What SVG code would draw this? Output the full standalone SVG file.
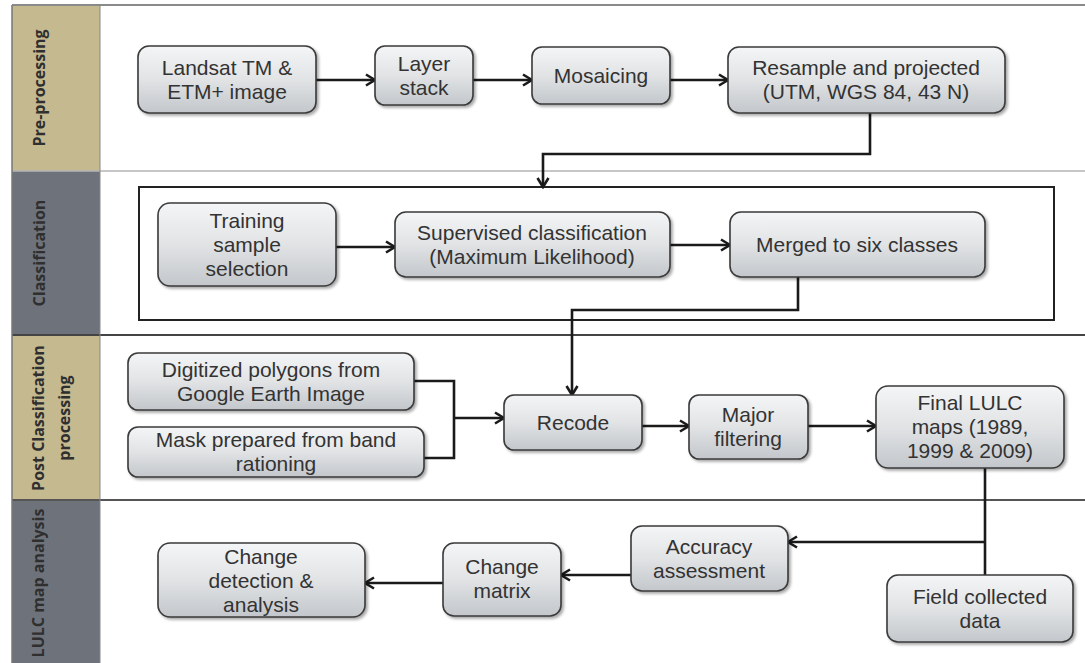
<svg xmlns="http://www.w3.org/2000/svg" width="1085" height="663" viewBox="0 0 1085 663">
<defs>
<linearGradient id="g" x1="0" y1="0" x2="0" y2="1">
<stop offset="0" stop-color="#f4f5f6"/>
<stop offset="0.5" stop-color="#e1e3e5"/>
<stop offset="1" stop-color="#c3c7cb"/>
</linearGradient>
<filter id="sh" x="-10%" y="-10%" width="125%" height="130%">
<feGaussianBlur in="SourceAlpha" stdDeviation="1.5"/>
<feOffset dx="1.5" dy="2" result="o"/>
<feComponentTransfer><feFuncA type="linear" slope="0.35"/></feComponentTransfer>
<feMerge><feMergeNode/><feMergeNode in="SourceGraphic"/></feMerge>
</filter>
<marker id="ah" markerUnits="userSpaceOnUse" markerWidth="14" markerHeight="14" viewBox="0 0 14 14" refX="12" refY="7" orient="auto">
<path d="M3,1.5 L12,7 L3,12.5" fill="none" stroke="#1a1a1a" stroke-width="2.6" stroke-linejoin="miter"/>
</marker>
</defs>
<style>
.box{fill:url(#g);stroke:#3a3a3a;stroke-width:1.6;filter:url(#sh)}
.t{font-family:"Liberation Sans",Arial,sans-serif;font-size:21px;fill:#333;text-anchor:middle}
.lab{font-family:"Open Sans","Liberation Sans",sans-serif;font-size:16px;font-weight:bold;fill:#2f2f2f;text-anchor:middle}
.c{fill:none;stroke:#1a1a1a;stroke-width:2.6}
.a{marker-end:url(#ah)}
</style>
<rect x="0" y="0" width="1085" height="663" fill="#ffffff"/>
<g id="lanes">
<rect x="12" y="5" width="88" height="166" fill="#c5b98f"/>
<rect x="12" y="171" width="88" height="164" fill="#6e737b"/>
<rect x="12" y="335" width="88" height="165" fill="#c5b98f"/>
<rect x="12" y="500" width="88" height="163" fill="#6e737b"/>
<line x1="12" y1="5" x2="1085" y2="5" stroke="#8a8a8a" stroke-width="2"/>
<line x1="12" y1="171" x2="1085" y2="171" stroke="#b5b5b5" stroke-width="1.5"/>
<line x1="12" y1="335" x2="1085" y2="335" stroke="#444" stroke-width="1.8"/>
<line x1="12" y1="500" x2="1085" y2="500" stroke="#555" stroke-width="1.8"/>
<line x1="12" y1="5" x2="12" y2="663" stroke="#777" stroke-width="1.5"/>
<line x1="100" y1="5" x2="100" y2="663" stroke="#888" stroke-width="1"/>
<text class="lab" transform="translate(45,88) rotate(-90)">Pre-processing</text>
<text class="lab" transform="translate(45,253) rotate(-90)">Classification</text>
<text class="lab" transform="translate(44,418) rotate(-90)"><tspan x="0" y="0">Post Classification</tspan><tspan x="0" y="26">processing</tspan></text>
<text class="lab" transform="translate(44,583) rotate(-90)">LULC map analysis</text>
</g>
<rect id="classification-frame" x="139" y="187" width="915" height="133" fill="none" stroke="#222" stroke-width="2"/>
<g id="connectors">
<path class="c a" d="M316,80 H375"/>
<path class="c a" d="M473,80 H532"/>
<path class="c a" d="M670,80 H728"/>
<path class="c a" d="M870,113 V154 H543 V187"/>
<path class="c a" d="M336,247 H395"/>
<path class="c a" d="M670,245 H730"/>
<path class="c a" d="M798,277 V310 H572 V395"/>
<path class="c" d="M414,381 H454 V458 H424"/>
<path class="c a" d="M454,418 H504"/>
<path class="c a" d="M642,426 H689"/>
<path class="c a" d="M808,426 H876"/>
<path class="c" d="M985,468 V575"/>
<path class="c a" d="M985,542 H788"/>
<path class="c a" d="M631,575 H561"/>
<path class="c a" d="M443,583 H365"/>
</g>
<g id="landsat"><rect class="box" x="138" y="46" width="178" height="67" rx="11"/>
<text class="t"><tspan x="227" y="75">Landsat TM &amp;</tspan><tspan x="227" y="99">ETM+ image</tspan></text></g>
<g id="layer-stack"><rect class="box" x="375" y="46" width="98" height="59" rx="10"/>
<text class="t"><tspan x="424" y="71">Layer</tspan><tspan x="424" y="95">stack</tspan></text></g>
<g id="mosaicing"><rect class="box" x="532" y="47" width="138" height="57" rx="10"/>
<text class="t" x="601" y="83">Mosaicing</text></g>
<g id="resample"><rect class="box" x="728" y="47" width="277" height="66" rx="11"/>
<text class="t"><tspan x="866" y="75">Resample and projected</tspan><tspan x="866" y="99">(UTM, WGS 84, 43 N)</tspan></text></g>
<g id="training"><rect class="box" x="158" y="203" width="178" height="83" rx="12"/>
<text class="t"><tspan x="247" y="228">Training</tspan><tspan x="247" y="252">sample</tspan><tspan x="247" y="276">selection</tspan></text></g>
<g id="supervised"><rect class="box" x="395" y="212" width="275" height="65" rx="11"/>
<text class="t"><tspan x="532" y="240">Supervised classification</tspan><tspan x="532" y="264">(Maximum Likelihood)</tspan></text></g>
<g id="merged"><rect class="box" x="730" y="212" width="255" height="65" rx="11"/>
<text class="t" x="857" y="252">Merged to six classes</text></g>
<g id="digitized"><rect class="box" x="128" y="353" width="286" height="57" rx="10"/>
<text class="t"><tspan x="271" y="377">Digitized polygons from</tspan><tspan x="271" y="401">Google Earth Image</tspan></text></g>
<g id="mask"><rect class="box" x="128" y="427" width="296" height="50" rx="10"/>
<text class="t"><tspan x="276" y="447">Mask prepared from band</tspan><tspan x="276" y="471">rationing</tspan></text></g>
<g id="recode"><rect class="box" x="504" y="395" width="138" height="55" rx="10"/>
<text class="t" x="573" y="430">Recode</text></g>
<g id="major"><rect class="box" x="689" y="395" width="119" height="64" rx="10"/>
<text class="t"><tspan x="748" y="422">Major</tspan><tspan x="748" y="446">filtering</tspan></text></g>
<g id="final"><rect class="box" x="876" y="386" width="188" height="82" rx="12"/>
<text class="t"><tspan x="970" y="410">Final LULC</tspan><tspan x="970" y="434">maps (1989,</tspan><tspan x="970" y="458">1999 &amp; 2009)</tspan></text></g>
<g id="accuracy"><rect class="box" x="631" y="526" width="157" height="65" rx="11"/>
<text class="t"><tspan x="709" y="554">Accuracy</tspan><tspan x="709" y="578">assessment</tspan></text></g>
<g id="field"><rect class="box" x="887" y="575" width="186" height="67" rx="11"/>
<text class="t"><tspan x="980" y="604">Field collected</tspan><tspan x="980" y="628">data</tspan></text></g>
<g id="change-matrix"><rect class="box" x="443" y="543" width="118" height="73" rx="11"/>
<text class="t"><tspan x="502" y="574">Change</tspan><tspan x="502" y="598">matrix</tspan></text></g>
<g id="change-detection"><rect class="box" x="158" y="543" width="207" height="74" rx="12"/>
<text class="t"><tspan x="261" y="564">Change</tspan><tspan x="261" y="588">detection &amp;</tspan><tspan x="261" y="612">analysis</tspan></text></g>
</svg>
